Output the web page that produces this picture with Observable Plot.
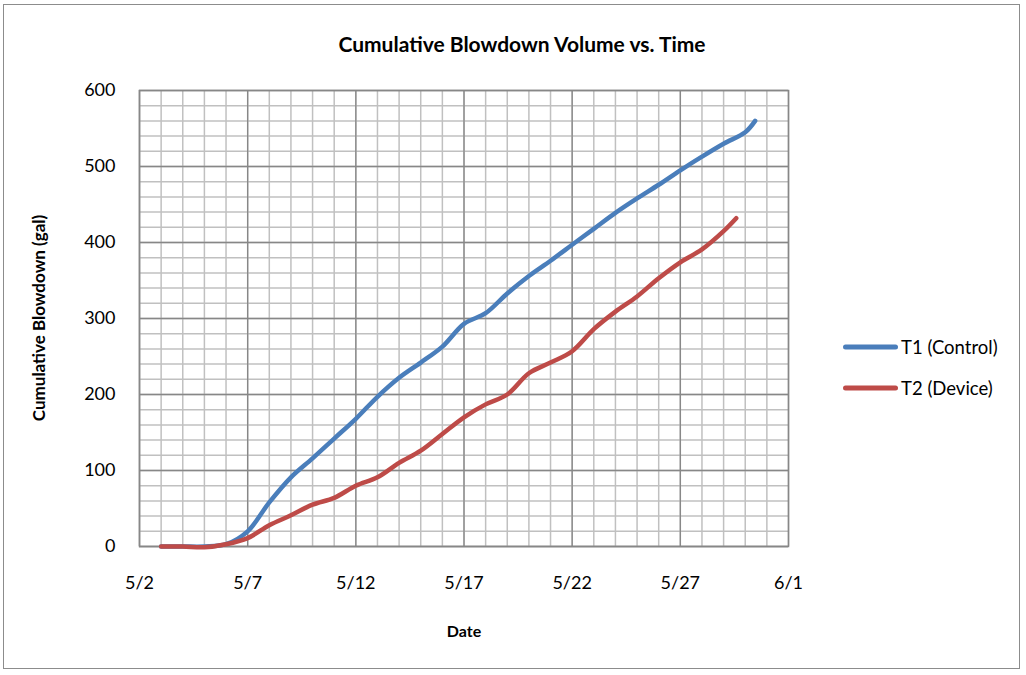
<!DOCTYPE html>
<html><head><meta charset="utf-8">
<script src="https://cdn.jsdelivr.net/npm/d3@7"></script>
<script src="https://cdn.jsdelivr.net/npm/@observablehq/plot@0.6"></script>
<style>
body{margin:0;background:#fff;font-family:Lato,"Open Sans",sans-serif;color:#000}
#wrap{position:relative;width:1026px;height:675px;overflow:hidden}
#frame{position:absolute;left:3px;top:4px;width:1017px;height:665px;border:1px solid #8c8c8c;pointer-events:none;box-sizing:border-box}
.abs{position:absolute;white-space:nowrap}
#title{font-weight:bold;font-size:21px;left:522px;top:43px;transform:translate(-50%,-50%)}
#xlab{font-weight:bold;font-size:16px;left:464px;top:630px;transform:translate(-50%,-50%)}
#ylab{font-weight:bold;font-size:17px;left:38px;top:318px;transform:translate(-50%,-50%) rotate(-90deg)}
.leg{font-size:18.5px;left:901px;transform:translateY(-50%)}
.legline{position:absolute;left:843px;width:55px;height:5px;border-radius:3px;transform:translateY(-50%)}
</style></head>
<body>
<div id="wrap">
  <div id="chart"></div>
  <div id="frame"></div>
  <div id="title" class="abs">Cumulative Blowdown Volume vs. Time</div>
  <div id="xlab" class="abs">Date</div>
  <div id="ylab" class="abs">Cumulative Blowdown (gal)</div>
  <div class="legline" style="top:347px;background:#4a7ebb"></div>
  <div class="abs leg" style="top:347px">T1 (Control)</div>
  <div class="legline" style="top:388px;background:#be4b48"></div>
  <div class="abs leg" style="top:388px">T2 (Device)</div>
</div>
<script>
// Series T1 (Control)
const t1Dates = ["2012-05-03","2012-05-04","2012-05-05","2012-05-06","2012-05-07","2012-05-08","2012-05-09","2012-05-10","2012-05-11","2012-05-12","2012-05-13","2012-05-14","2012-05-15","2012-05-16","2012-05-17","2012-05-18","2012-05-19","2012-05-20","2012-05-21","2012-05-22","2012-05-23","2012-05-24","2012-05-25","2012-05-26","2012-05-27","2012-05-28","2012-05-29","2012-05-30","2012-05-30T11:00Z"];
const t1Values = [0,0,0,3,20,58,91,116,142,168,197,222,242,263,293,307,333,356,376,397,418,439,458,476,495,513,530,545,560];
// Series T2 (Device)
const t2Dates = ["2012-05-03","2012-05-04","2012-05-05","2012-05-06","2012-05-07","2012-05-08","2012-05-09","2012-05-10","2012-05-11","2012-05-12","2012-05-13","2012-05-14","2012-05-15","2012-05-16","2012-05-17","2012-05-18","2012-05-19","2012-05-20","2012-05-21","2012-05-22","2012-05-23","2012-05-24","2012-05-25","2012-05-26","2012-05-27","2012-05-28","2012-05-29","2012-05-29T14:00Z"];
const t2Values = [0,0,-1,3,11,28,41,55,64,80,91,110,126,148,170,187,200,228,242,257,286,309,329,353,374,391,415,432];
// Axis ticks
const xTickDates = ["2012-05-02","2012-05-07","2012-05-12","2012-05-17","2012-05-22","2012-05-27","2012-06-01"];
const yTicks = [0,100,200,300,400,500,600];

const t1 = t1Dates.map((d,i)=>({date:new Date(d), value:t1Values[i]}));
const t2 = t2Dates.map((d,i)=>({date:new Date(d), value:t2Values[i]}));
const xMajor = xTickDates.map(d=>new Date(d));
const dayLines = d3.utcDay.range(xMajor[0], xMajor[xMajor.length-1]);
const minorY = d3.range(0, 600, 20);
const fmt = d => `${d.getUTCMonth()+1}/${d.getUTCDate()}`;

const chart = Plot.plot({
  width:1026, height:675,
  marginLeft:139, marginRight:238, marginTop:90, marginBottom:129,
  style:{fontFamily:"Lato, 'Open Sans', sans-serif", fontSize:"18px", color:"#000", background:"transparent"},
  x:{type:"utc", domain:[xMajor[0], xMajor[xMajor.length-1]]},
  y:{domain:[0,600]},
  marks:[
    Plot.ruleX(dayLines, {stroke:"#c0c0c0", strokeWidth:1.5}),
    Plot.ruleY(minorY, {stroke:"#c0c0c0", strokeWidth:1.5}),
    Plot.ruleX(xMajor, {stroke:"#878787", strokeWidth:1.3}),
    Plot.ruleY(yTicks, {stroke:"#878787", strokeWidth:1.3}),
    Plot.frame({stroke:"#878787", strokeWidth:1.5}),
    Plot.axisX({ticks:xMajor, tickFormat:fmt, tickSize:0, tickPadding:30, label:null, fontSize:18}),
    Plot.axisY({ticks:yTicks, tickSize:0, tickPadding:24, label:null, fontSize:18}),
    Plot.line(t1, {x:"date", y:"value", stroke:"#4a7ebb", strokeWidth:4.5, curve:"catmull-rom"}),
    Plot.line(t2, {x:"date", y:"value", stroke:"#be4b48", strokeWidth:4.5, curve:"catmull-rom"})
  ]
});
document.getElementById("chart").appendChild(chart);
</script>
</body></html>
